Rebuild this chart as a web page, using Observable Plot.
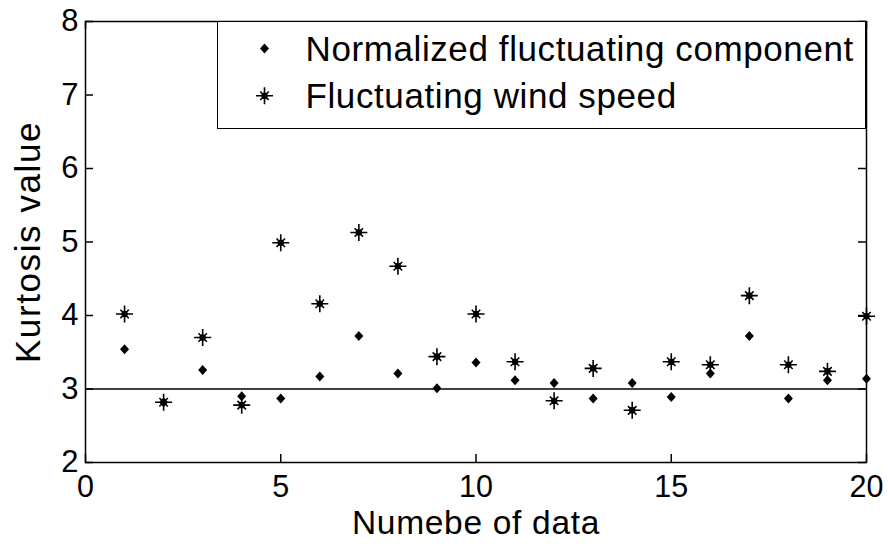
<!DOCTYPE html>
<html>
<head>
<meta charset="utf-8">
<script src="https://cdn.jsdelivr.net/npm/d3@7"></script>
<script src="https://cdn.jsdelivr.net/npm/@observablehq/plot@0.6"></script>
<style>
  html, body { margin: 0; padding: 0; background: #fff; }
  #wrap { position: relative; width: 888px; height: 546px; font-family: "Liberation Sans", Arial, sans-serif; }
  #legend { position: absolute; left: 217px; top: 21px; width: 649px; height: 108px; box-sizing: border-box;
            border: 1.5px solid #000; background: #fff; }
  #legend svg { position: absolute; left: 0; top: 0; overflow: visible; }
</style>
</head>
<body>
<div id="wrap"></div>
<script>
// ---- data ----
const dataIndex = [1, 2, 3, 4, 5, 6, 7, 8, 9, 10, 11, 12, 13, 14, 15, 16, 17, 18, 19, 20];
const normalizedComponent = [3.54, 2.82, 3.26, 2.90, 2.87, 3.17, 3.72, 3.21, 3.01, 3.36, 3.12, 3.08, 2.87, 3.08, 2.89, 3.21, 3.72, 2.87, 3.12, 3.14];
const windSpeed = [4.02, 2.82, 3.70, 2.78, 4.99, 4.16, 5.13, 4.67, 3.44, 4.02, 3.37, 2.84, 3.28, 2.71, 3.37, 3.33, 4.27, 3.33, 3.24, 3.99];
const xTicks = [0, 5, 10, 15, 20];
const yTicks = [2, 3, 4, 5, 6, 7, 8];
const referenceLevel = [3];
const seriesNames = ["Normalized fluctuating component", "Fluctuating wind speed"];
const xLabel = "Numebe of data";
const yLabel = "Kurtosis value";

// ---- layout ----
const W = 888, H = 546, ML = 85, MR = 22, MT = 21, MB = 84;
const frameW = W - ML - MR, frameH = H - MT - MB;
const tickLen = 8;

// ---- symbols ----
const diamondSym = {
  draw(ctx, size) {
    const r = Math.sqrt(size / Math.PI);
    ctx.moveTo(0, -r); ctx.lineTo(r * 0.9, 0); ctx.lineTo(0, r); ctx.lineTo(-r * 0.9, 0); ctx.closePath();
  }
};
const starSym = {
  draw(ctx, size) {
    const r = Math.sqrt(size / Math.PI);
    const d = r * 0.5;
    ctx.moveTo(-r, 0); ctx.lineTo(r, 0);
    ctx.moveTo(0, -r); ctx.lineTo(0, r);
    ctx.moveTo(-d, -d); ctx.lineTo(d, d);
    ctx.moveTo(-d, d); ctx.lineTo(d, -d);
    const c = r * 0.3;
    ctx.moveTo(c, 0); ctx.arc(0, 0, c, 0, 2 * Math.PI);
  }
};

const normRows = dataIndex.map((x, i) => ({x, y: normalizedComponent[i]}));
const windRows = dataIndex.map((x, i) => ({x, y: windSpeed[i]}));

const tickStyle = {stroke: "#000", strokeWidth: 1.5};

const chart = Plot.plot({
  width: W,
  height: H,
  marginLeft: ML,
  marginRight: MR,
  marginTop: MT,
  marginBottom: MB,
  style: {fontFamily: "Liberation Sans, Arial, sans-serif", fontSize: "32px", color: "#000", background: "#fff"},
  x: {domain: [0, 20], axis: null},
  y: {domain: [2, 8], axis: null},
  marks: [
    Plot.ruleY(referenceLevel, {stroke: "#000", strokeWidth: 1.5}),
    // inward ticks on all four sides
    Plot.tickX(xTicks, {x: d => d, insetTop: frameH - tickLen, ...tickStyle}),
    Plot.tickX(xTicks, {x: d => d, insetBottom: frameH - tickLen, ...tickStyle}),
    Plot.tickY(yTicks, {y: d => d, insetRight: frameW - tickLen, ...tickStyle}),
    Plot.tickY(yTicks, {y: d => d, insetLeft: frameW - tickLen, ...tickStyle}),
    // tick labels
    Plot.axisX(xTicks, {anchor: "bottom", tickSize: 0, tickPadding: 13, tickFormat: d3.format("d"), label: null, fontSize: 30.5, color: "#000"}),
    Plot.axisY(yTicks, {anchor: "left", tickSize: 0, tickPadding: 7, tickFormat: d3.format("d"), label: null, fontSize: 31, color: "#000"}),
    Plot.frame({stroke: "#000", strokeWidth: 1.5}),
    Plot.dot(normRows, {x: "x", y: "y", r: 5, symbol: diamondSym, fill: "#000", stroke: "none"}),
    Plot.dot(windRows, {x: "x", y: "y", r: 8.5, symbol: starSym, fill: "#000", stroke: "#000", strokeWidth: 1.6}),
    Plot.text([yLabel], {frameAnchor: "left", textAnchor: "middle", lineAnchor: "middle", rotate: -90, dx: -57, fontSize: 35, fill: "#000"}),
    Plot.text([xLabel], {frameAnchor: "bottom", textAnchor: "middle", lineAnchor: "bottom", dy: 71, fontSize: 33.5, fill: "#000"})
  ]
});

const wrap = document.getElementById("wrap");
wrap.appendChild(chart);
// letter-spacing for axis titles (Helvetica-like wide setting of the original)
d3.select(chart).selectAll("text").filter(function () { return this.textContent === yLabel; }).attr("letter-spacing", "1.6px");
d3.select(chart).selectAll("text").filter(function () { return this.textContent === xLabel; }).attr("letter-spacing", "0.7px");

// ---- legend (overlay inside the plot frame, top-right) ----
const legend = document.createElement("div");
legend.id = "legend";
wrap.appendChild(legend);
const lsvg = d3.select(legend).append("svg").attr("width", 646).attr("height", 105);
const legendSymbols = [
  {sym: diamondSym, r: 5, fill: "#000", stroke: "none"},
  {sym: starSym, r: 8.5, fill: "#000", stroke: "#000"}
];
seriesNames.forEach((name, i) => {
  const cy = 26.5 + i * 47.3;
  const s = legendSymbols[i];
  lsvg.append("path")
    .attr("transform", `translate(46.5,${cy})`)
    .attr("d", d3.symbol(s.sym, s.r * s.r * Math.PI)())
    .attr("fill", s.fill).attr("stroke", s.stroke).attr("stroke-width", 1.6);
  lsvg.append("text")
    .attr("x", 87.5).attr("y", cy + 12)
    .attr("font-family", "Liberation Sans, Arial, sans-serif")
    .attr("font-size", 35)
    .attr("letter-spacing", "0.6px")
    .attr("fill", "#000")
    .text(name);
});
</script>
</body>
</html>
